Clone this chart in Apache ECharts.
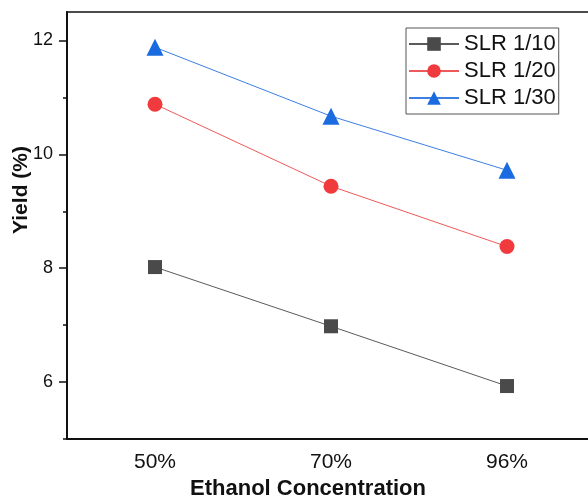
<!DOCTYPE html>
<html>
<head>
<meta charset="utf-8">
<script src="https://cdn.jsdelivr.net/npm/echarts@6/dist/echarts.min.js"></script>
<style>
html,body{margin:0;padding:0;background:#fff;}
#chart{width:588px;height:497px;}
</style>
</head>
<body>
<div id="chart"></div>
<script>
var categories = ['50%', '70%', '96%'];
var slr10 = [8.02, 6.98, 5.93];
var slr20 = [10.88, 9.44, 8.38];
var slr30 = [11.88, 10.67, 9.72];
var yMajorTicks = [6, 8, 10, 12];
var yMinorTicks = [5, 7, 9, 11];
var xMinorSlots = ['', '', '', '', '', ''];

var FONT = 'Liberation Sans, Arial, sans-serif';
var chart = echarts.init(document.getElementById('chart'));
chart.setOption({
  animation: false,
  backgroundColor: '#fff',
  grid: {left: 67, top: 12, width: 528, height: 427, outerBoundsMode: 'none', containLabel: false,
         show: true, borderColor: '#111', borderWidth: 1.5, backgroundColor: 'transparent'},
  xAxis: [{
    type: 'category', data: categories, boundaryGap: true,
    axisLine: {lineStyle: {color: '#111', width: 2}},
    axisTick: {alignWithLabel: true, length: 8, lineStyle: {color: '#111', width: 1.5}},
    axisLabel: {color: '#111', fontSize: 21, fontFamily: FONT, margin: 13},
    splitLine: {show: false}
  }, {
    type: 'category', data: xMinorSlots, boundaryGap: true, position: 'bottom',
    axisLine: {show: false},
    axisTick: {length: 4, lineStyle: {color: '#111', width: 1.5}},
    axisLabel: {show: false},
    splitLine: {show: false}
  }],
  yAxis: [{
    type: 'value', min: 5, max: 12.5,
    axisLine: {show: true, lineStyle: {color: '#111', width: 2}},
    axisTick: {show: true, length: 8, customValues: yMajorTicks, lineStyle: {color: '#111', width: 1.5}},
    axisLabel: {color: '#111', fontSize: 18, fontFamily: FONT, margin: 14, customValues: yMajorTicks},
    splitLine: {show: false}
  }, {
    type: 'value', min: 5, max: 12.5, position: 'left',
    axisLine: {show: false},
    axisTick: {show: true, length: 4, customValues: yMinorTicks, lineStyle: {color: '#111', width: 1.5}},
    axisLabel: {show: false},
    splitLine: {show: false}
  }],
  legend: {
    left: 406, top: 28, orient: 'vertical',
    padding: [5, 3, 5, 2],
    itemWidth: 50, itemHeight: 17, itemGap: 5,
    borderColor: '#555', borderWidth: 1,
    textStyle: {color: '#111', fontSize: 22, fontFamily: FONT, lineHeight: 22},
    data: ['SLR 1/10', 'SLR 1/20', 'SLR 1/30']
  },
  series: [{
    name: 'SLR 1/10', type: 'line', data: slr10,
    symbol: 'rect', symbolSize: 14,
    itemStyle: {color: '#4a4a4a'},
    lineStyle: {color: '#5a5a5a', width: 1}
  }, {
    name: 'SLR 1/20', type: 'line', data: slr20,
    symbol: 'circle', symbolSize: 15,
    itemStyle: {color: '#f03a3e'},
    lineStyle: {color: '#ee5a5a', width: 1}
  }, {
    name: 'SLR 1/30', type: 'line', data: slr30,
    symbol: 'triangle', symbolSize: 17,
    itemStyle: {color: '#1b6be0'},
    lineStyle: {color: '#3c80e4', width: 1}
  }],
  graphic: [
    {type: 'text', x: 21, y: 190, rotation: Math.PI / 2,
     style: {text: 'Yield (%)', font: 'bold 21px ' + FONT, fill: '#111', textAlign: 'center', textVerticalAlign: 'middle'}},
    {type: 'text', x: 308, y: 489,
     style: {text: 'Ethanol Concentration', font: 'bold 22px ' + FONT, fill: '#111', textAlign: 'center', textVerticalAlign: 'middle'}}
  ]
});
</script>
</body>
</html>
